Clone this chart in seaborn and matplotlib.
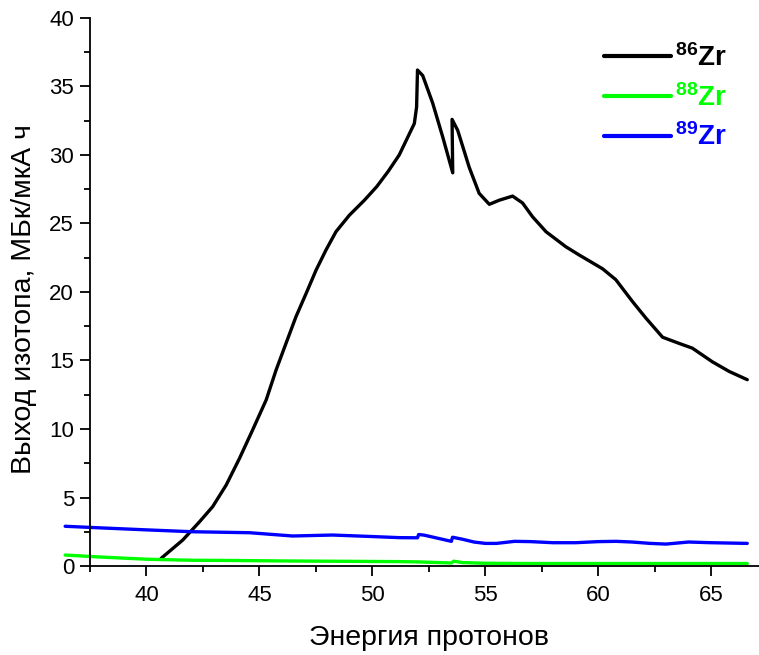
import matplotlib
matplotlib.use("Agg")
import matplotlib.pyplot as plt
import seaborn as sns
import pandas as pd
from matplotlib.ticker import MultipleLocator

sns.set_theme(style="ticks")
plt.rcParams['font.family'] = ['Liberation Sans', 'DejaVu Sans']
plt.rcParams['mathtext.fontset'] = 'custom'
plt.rcParams['mathtext.rm'] = 'Liberation Sans'
plt.rcParams['mathtext.bf'] = 'Liberation Sans:bold'
plt.rcParams['text.color'] = 'black'
plt.rcParams['axes.labelcolor'] = 'black'
plt.rcParams['xtick.color'] = 'black'
plt.rcParams['ytick.color'] = 'black'

# Zr-86
x86 = [40.65, 41.61, 42.35, 42.93, 43.53, 44.12, 44.70, 45.30, 45.74, 46.18, 46.62,
       47.07, 47.51, 47.95, 48.39, 48.98, 49.65, 50.2, 50.7, 51.19, 51.86, 51.96,
       52.0, 52.23, 52.67, 53.12, 53.56, 53.53, 53.78, 54.29, 54.73, 55.18, 55.62,
       56.21, 56.65, 57.09, 57.69, 58.57, 59.16, 60.19, 60.78, 61.52, 62.11, 62.85,
       63.58, 64.17, 65.06, 65.8, 66.6]
y86 = [0.56, 1.90, 3.23, 4.33, 5.91, 7.86, 9.93, 12.12, 14.31, 16.26, 18.2,
       19.9, 21.6, 23.07, 24.4, 25.6, 26.7, 27.7, 28.8, 30.0, 32.3, 33.5,
       36.2, 35.8, 33.8, 31.3, 28.7, 32.6, 31.8, 29.1, 27.2, 26.4, 26.7,
       27.0, 26.5, 25.5, 24.4, 23.3, 22.7, 21.7, 20.9, 19.3, 18.1, 16.7,
       16.25, 15.9, 14.9, 14.2, 13.6]

# Zr-88
x88 = [36.4, 38.0, 40.1, 42.0, 44.0, 46.0, 48.0, 51.2, 52.0, 53.5, 53.6, 54.0, 55.0,
       57.0, 60.0, 63.0, 66.6]
y88 = [0.8, 0.65, 0.49, 0.42, 0.4, 0.37, 0.35, 0.32, 0.3, 0.22, 0.35, 0.25, 0.2,
       0.18, 0.18, 0.18, 0.18]

# Zr-89
x89 = [36.4, 38.0, 40.1, 42.05, 44.56, 46.47, 48.24, 50.0, 51.19, 52.0,
       52.05, 52.3, 53.5, 53.55, 54.0, 54.5, 55.0, 55.5, 56.3, 57.0, 58.0, 59.0, 60.0,
       60.8, 61.5, 62.3, 63.0, 64.0, 65.0, 66.6]
y89 = [2.9, 2.78, 2.63, 2.5, 2.43, 2.19, 2.26, 2.15, 2.07, 2.06,
       2.3, 2.25, 1.8, 2.1, 1.95, 1.75, 1.65, 1.65, 1.8, 1.78, 1.7, 1.7, 1.78,
       1.8, 1.75, 1.65, 1.6, 1.75, 1.7, 1.65]

labels = [r'$\mathbf{^{86}Zr}$', r'$\mathbf{^{88}Zr}$', r'$\mathbf{^{89}Zr}$']
colors = ['#000000', '#00ff00', '#0000ff']
xlabel = 'Энергия протонов'
ylabel = 'Выход изотопа, МБк/мкА ч'

fig = plt.figure(figsize=(7.59, 6.55), dpi=100)
ax = fig.add_axes([90/759, (655-566)/655, 1 - 90/759, (566-18)/655])

for xs, ys, lab, c in zip([x86, x88, x89], [y86, y88, y89], labels, colors):
    df = pd.DataFrame({'x': xs, 'y': ys})
    sns.lineplot(data=df, x='x', y='y', sort=False, estimator=None, color=c,
                 linewidth=2.4, label=lab, ax=ax)
for ln in ax.lines:
    ln.set_clip_on(False)
    ln.set_solid_joinstyle('round')
    ln.set_solid_capstyle('round')

ax.set_xlim(37.5, 67.12)
ax.set_ylim(0, 40)
ax.xaxis.set_major_locator(MultipleLocator(5))
ax.xaxis.set_minor_locator(MultipleLocator(2.5))
ax.yaxis.set_major_locator(MultipleLocator(5))
ax.yaxis.set_minor_locator(MultipleLocator(2.5))
ax.tick_params(which='major', direction='out', length=7.5, width=1.3, labelsize=16,
               colors='black', pad=4)
ax.tick_params(axis='x', which='major', pad=6)
ax.tick_params(which='minor', direction='out', length=4, width=1.3, colors='black')
for s in ['top', 'right']:
    ax.spines[s].set_visible(False)
for s in ['left', 'bottom']:
    ax.spines[s].set_linewidth(1.3)
    ax.spines[s].set_color('black')

ax.set_xlabel(xlabel, fontsize=20.5, labelpad=14, color='black')
ax.xaxis.label.set_x((429 - 90) / 669)
ax.set_ylabel(ylabel, fontsize=20.5, color='black')
ax.yaxis.set_label_coords((37 - 90) / 669, (566 - 299.5) / 548)

leg = ax.legend(loc='upper right', frameon=False, fontsize=20, handlelength=2.4,
                labelcolor='linecolor', bbox_to_anchor=(727/759, 1 - 44/655),
                bbox_transform=fig.transFigure, borderaxespad=0, borderpad=0,
                labelspacing=0.43, handletextpad=0.15)
for h in leg.legend_handles:
    h.set_linewidth(3)

fig.savefig('out.png', dpi=100)
